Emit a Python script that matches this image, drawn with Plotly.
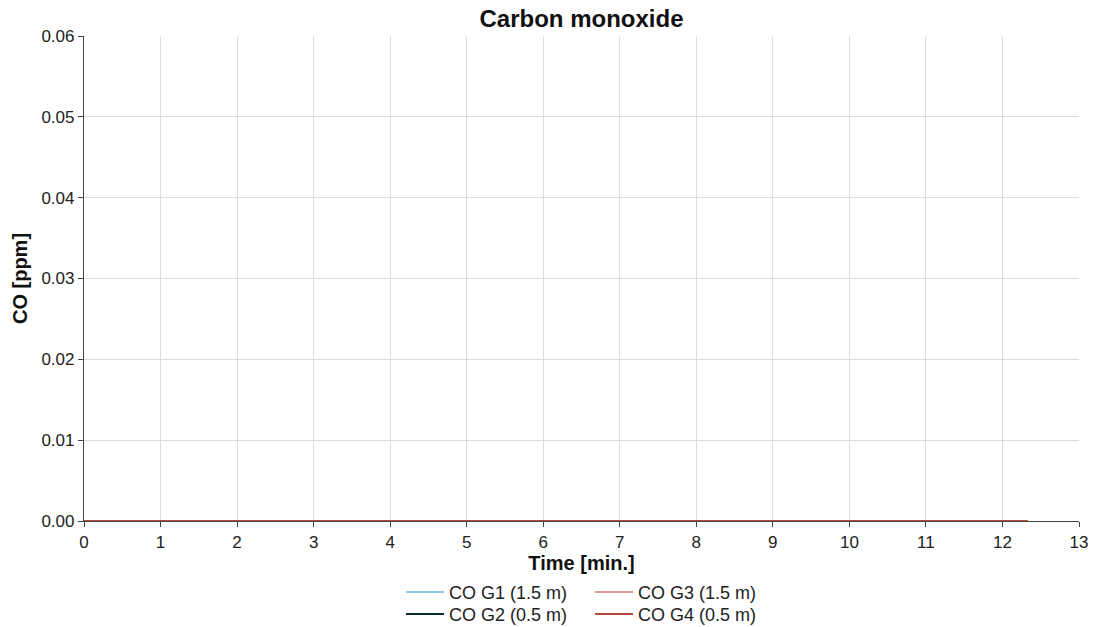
import plotly.graph_objects as go

# Sampling times (minutes) and measured CO concentrations (ppm)
time_min = [0, 0.5, 1, 1.5, 2, 2.5, 3, 3.5, 4, 4.5, 5, 5.5, 6, 6.5, 7, 7.5,
            8, 8.5, 9, 9.5, 10, 10.5, 11, 11.5, 12, 12.33]
co_g1 = [0.0] * 26
co_g2 = [0.0] * 26
co_g3 = [0.0] * 26
co_g4 = [0.0] * 26

series_names = ["CO G1 (1.5 m)", "CO G2 (0.5 m)", "CO G3 (1.5 m)", "CO G4 (0.5 m)"]
series_values = [co_g1, co_g2, co_g3, co_g4]
series_colors = ["#8cc8e4", "#0e2a3b", "#e39a90", "#b24a3e"]
# one single-entry legend per series, laid out as a 2 x 2 grid under the axis
series_legend = ["legend", "legend2", "legend3", "legend4"]

x_ticks = list(range(0, 14))
y_ticks = [0.00, 0.01, 0.02, 0.03, 0.04, 0.05, 0.06]

FONT = "Liberation Sans, Arial, sans-serif"

fig = go.Figure()
for name, vals, col, leg in zip(series_names, series_values, series_colors, series_legend):
    fig.add_trace(go.Scatter(x=time_min, y=vals, mode="lines", name=name,
                             line=dict(color=col, width=2), legend=leg,
                             showlegend=True))

axis_common = dict(
    showgrid=True, gridcolor="#dcdcdc", gridwidth=1,
    showline=True, linecolor="#444444", linewidth=1.2,
    ticks="outside", ticklen=5, tickcolor="#444444",
    tickfont=dict(family=FONT, size=17, color="#222222"),
    zeroline=False,
)

legend_common = dict(
    xanchor="left", yanchor="middle", orientation="v",
    bgcolor="rgba(0,0,0,0)", itemwidth=38,
    font=dict(family=FONT, size=18, color="#222222"),
)
col_left, col_right = 0.3186, 0.5085
row_top, row_bottom = -0.147, -0.1925

fig.update_layout(
    width=1096, height=627,
    showlegend=True,
    margin=dict(l=84, r=17, t=36, b=106, autoexpand=False),
    paper_bgcolor="white", plot_bgcolor="white",
    font=dict(family=FONT, color="#111111"),
    title=dict(text="<b>Carbon monoxide</b>", xref="paper", x=0.5, xanchor="center",
               y=0.984, yanchor="top", font=dict(family=FONT, size=24, color="#111111")),
    xaxis=dict(range=[0, 13], tickvals=x_ticks,
               title=dict(text="<b>Time [min.]</b>", standoff=3,
                          font=dict(family=FONT, size=20, color="#111111")),
               **axis_common),
    yaxis=dict(range=[0, 0.06], tickvals=y_ticks, tickformat=".2f",
               title=dict(text="<b>CO [ppm]</b>", standoff=8,
                          font=dict(family=FONT, size=20, color="#111111")),
               **axis_common),
    legend=dict(x=col_left, y=row_top, **legend_common),
    legend2=dict(x=col_left, y=row_bottom, **legend_common),
    legend3=dict(x=col_right, y=row_top, **legend_common),
    legend4=dict(x=col_right, y=row_bottom, **legend_common),
)

fig.write_html("out.html")
